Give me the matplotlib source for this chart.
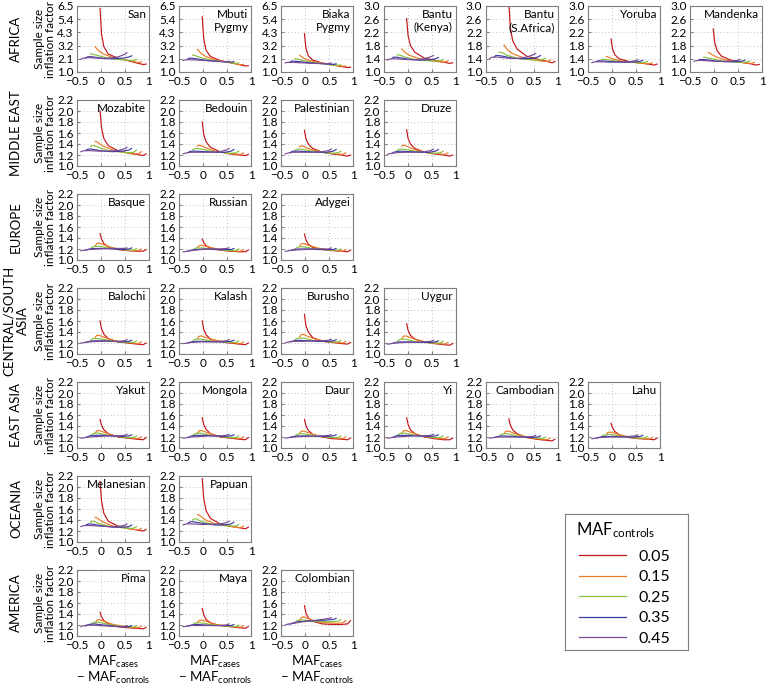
import matplotlib
matplotlib.use("Agg")
import matplotlib.pyplot as plt
from matplotlib.lines import Line2D

FONT = "Lato"
plt.rcParams['font.family'] = [FONT, 'DejaVu Sans']
plt.rcParams['mathtext.fontset'] = 'custom'
plt.rcParams['mathtext.rm'] = FONT
plt.rcParams['mathtext.it'] = FONT
plt.rcParams['axes.unicode_minus'] = True

# ---------------- data ----------------
MAF_CONTROLS = [0.05, 0.15, 0.25, 0.35, 0.45]
MAF_CASES = [0.03, 0.06, 0.11, 0.2, 0.4, 0.6, 0.8, 0.93, 0.99]
COLORS = ['#c4161c', '#ec7a22', '#86c240', '#3c3ca4', '#7a4a94']
X_TICKS = [-0.5, 0, 0.5, 1]
X_TICKLABELS = ['\u22120.5', '0', '0.5', '1']
YT_A = [1.0, 2.1, 3.2, 4.3, 5.4, 6.5]
YT_B = [1.0, 1.4, 1.8, 2.2, 2.6, 3.0]
YT_C = [1.0, 1.2, 1.4, 1.6, 1.8, 2.0, 2.2]

SAN = [[6.3, 4.2, 3.1, 2.5, 2.15, 1.95, 1.75, 1.62, 1.66],
       [3.1, 2.95, 2.75, 2.5, 2.2, 2.05, 1.9, 1.78, 1.85],
       [2.5, 2.5, 2.45, 2.35, 2.15, 2.05, 1.98, 1.95, 2.05],
       [2.15, 2.25, 2.28, 2.25, 2.12, 2.1, 2.15, 2.25, 2.35],
       [2.05, 2.12, 2.18, 2.2, 2.15, 2.15, 2.25, 2.45, 2.6]]
MBUTI = [[5.6, 3.8, 2.8, 2.3, 1.95, 1.8, 1.62, 1.5, 1.52],
         [2.9, 2.75, 2.55, 2.3, 2.0, 1.85, 1.7, 1.6, 1.64],
         [2.4, 2.4, 2.32, 2.2, 2.0, 1.88, 1.78, 1.72, 1.76],
         [2.1, 2.15, 2.15, 2.1, 1.98, 1.9, 1.85, 1.82, 1.86],
         [1.95, 2.0, 2.02, 2.02, 1.98, 1.92, 1.88, 1.86, 1.9]]
BIAKA = [[4.2, 3.0, 2.35, 2.0, 1.75, 1.6, 1.45, 1.38, 1.4],
         [2.4, 2.3, 2.15, 2.0, 1.8, 1.68, 1.55, 1.48, 1.5],
         [2.1, 2.1, 2.05, 1.95, 1.8, 1.7, 1.6, 1.56, 1.6],
         [1.85, 1.9, 1.9, 1.88, 1.78, 1.72, 1.66, 1.64, 1.68],
         [1.75, 1.8, 1.8, 1.8, 1.76, 1.72, 1.7, 1.7, 1.75]]
BANTU_KENYA = [[2.62, 2.1, 1.8, 1.6, 1.42, 1.36, 1.3, 1.26, 1.28],
               [1.7, 1.65, 1.58, 1.5, 1.4, 1.35, 1.31, 1.3, 1.34],
               [1.52, 1.52, 1.5, 1.45, 1.38, 1.35, 1.33, 1.34, 1.38],
               [1.42, 1.45, 1.45, 1.43, 1.38, 1.36, 1.37, 1.4, 1.44],
               [1.36, 1.39, 1.4, 1.4, 1.38, 1.37, 1.4, 1.46, 1.5]]
BANTU_SAFRICA = [[3.1, 2.35, 1.95, 1.7, 1.48, 1.4, 1.33, 1.28, 1.32],
                 [1.82, 1.75, 1.66, 1.56, 1.45, 1.38, 1.33, 1.32, 1.36],
                 [1.6, 1.6, 1.57, 1.5, 1.42, 1.38, 1.36, 1.37, 1.42],
                 [1.46, 1.5, 1.5, 1.48, 1.42, 1.4, 1.41, 1.45, 1.5],
                 [1.4, 1.44, 1.45, 1.45, 1.42, 1.41, 1.45, 1.52, 1.56]]
YORUBA = [[2.0, 1.7, 1.52, 1.4, 1.32, 1.28, 1.24, 1.21, 1.24],
          [1.47, 1.46, 1.43, 1.38, 1.32, 1.29, 1.26, 1.25, 1.28],
          [1.38, 1.39, 1.38, 1.36, 1.32, 1.3, 1.28, 1.29, 1.32],
          [1.32, 1.34, 1.34, 1.33, 1.31, 1.3, 1.3, 1.32, 1.35],
          [1.28, 1.3, 1.31, 1.31, 1.3, 1.3, 1.31, 1.34, 1.37]]
MANDENKA = [[2.3, 1.9, 1.65, 1.48, 1.36, 1.3, 1.25, 1.21, 1.23],
            [1.6, 1.57, 1.52, 1.45, 1.36, 1.31, 1.27, 1.26, 1.29],
            [1.45, 1.45, 1.43, 1.4, 1.34, 1.31, 1.29, 1.3, 1.33],
            [1.36, 1.38, 1.38, 1.37, 1.33, 1.31, 1.31, 1.33, 1.36],
            [1.32, 1.34, 1.35, 1.35, 1.33, 1.32, 1.33, 1.35, 1.38]]
MOZABITE = [[2.0, 1.7, 1.5, 1.37, 1.28, 1.24, 1.21, 1.19, 1.22],
            [1.45, 1.44, 1.41, 1.36, 1.29, 1.25, 1.22, 1.22, 1.26],
            [1.35, 1.37, 1.37, 1.34, 1.28, 1.26, 1.24, 1.25, 1.29],
            [1.28, 1.3, 1.31, 1.3, 1.27, 1.26, 1.27, 1.29, 1.32],
            [1.26, 1.27, 1.28, 1.28, 1.27, 1.27, 1.28, 1.31, 1.34]]
BEDOUIN = [[1.8, 1.58, 1.44, 1.34, 1.26, 1.22, 1.2, 1.19, 1.21],
           [1.36, 1.38, 1.37, 1.33, 1.27, 1.24, 1.22, 1.21, 1.24],
           [1.29, 1.31, 1.32, 1.31, 1.27, 1.25, 1.23, 1.24, 1.27],
           [1.24, 1.26, 1.27, 1.27, 1.26, 1.25, 1.25, 1.27, 1.3],
           [1.22, 1.23, 1.24, 1.25, 1.25, 1.25, 1.26, 1.29, 1.32]]
PALESTINIAN = [[1.65, 1.5, 1.4, 1.32, 1.25, 1.22, 1.2, 1.18, 1.2],
               [1.35, 1.37, 1.36, 1.32, 1.27, 1.24, 1.22, 1.21, 1.24],
               [1.28, 1.3, 1.31, 1.3, 1.27, 1.25, 1.23, 1.24, 1.27],
               [1.24, 1.26, 1.27, 1.27, 1.26, 1.25, 1.25, 1.27, 1.3],
               [1.22, 1.23, 1.24, 1.25, 1.25, 1.25, 1.26, 1.28, 1.31]]
DRUZE = [[1.66, 1.5, 1.4, 1.32, 1.25, 1.22, 1.2, 1.18, 1.2],
         [1.36, 1.38, 1.37, 1.33, 1.27, 1.24, 1.22, 1.21, 1.24],
         [1.28, 1.3, 1.31, 1.3, 1.27, 1.25, 1.23, 1.24, 1.27],
         [1.23, 1.25, 1.26, 1.27, 1.26, 1.25, 1.25, 1.27, 1.3],
         [1.21, 1.22, 1.23, 1.24, 1.25, 1.25, 1.26, 1.28, 1.31]]
BASQUE = [[1.48, 1.38, 1.3, 1.24, 1.19, 1.17, 1.16, 1.16, 1.19],
          [1.26, 1.3, 1.31, 1.28, 1.22, 1.19, 1.17, 1.17, 1.2],
          [1.2, 1.23, 1.25, 1.25, 1.22, 1.2, 1.18, 1.18, 1.21],
          [1.18, 1.19, 1.2, 1.21, 1.21, 1.2, 1.19, 1.2, 1.22],
          [1.17, 1.17, 1.18, 1.19, 1.2, 1.21, 1.21, 1.21, 1.22]]
RUSSIAN = [[1.38, 1.32, 1.26, 1.21, 1.18, 1.16, 1.15, 1.15, 1.18],
           [1.22, 1.26, 1.27, 1.25, 1.21, 1.18, 1.16, 1.16, 1.19],
           [1.18, 1.2, 1.22, 1.22, 1.2, 1.19, 1.17, 1.17, 1.2],
           [1.16, 1.17, 1.18, 1.19, 1.2, 1.19, 1.19, 1.19, 1.21],
           [1.15, 1.15, 1.16, 1.17, 1.19, 1.2, 1.2, 1.21, 1.22]]
ADYGEI = [[1.47, 1.37, 1.29, 1.23, 1.19, 1.17, 1.16, 1.15, 1.18],
          [1.25, 1.29, 1.3, 1.27, 1.22, 1.19, 1.17, 1.16, 1.19],
          [1.2, 1.22, 1.24, 1.24, 1.21, 1.19, 1.18, 1.18, 1.2],
          [1.17, 1.18, 1.19, 1.2, 1.2, 1.19, 1.19, 1.19, 1.21],
          [1.16, 1.16, 1.17, 1.18, 1.19, 1.2, 1.2, 1.2, 1.22]]
BALOCHI = [[1.6, 1.46, 1.36, 1.28, 1.22, 1.2, 1.18, 1.17, 1.2],
           [1.3, 1.34, 1.34, 1.31, 1.25, 1.22, 1.2, 1.19, 1.22],
           [1.24, 1.27, 1.28, 1.28, 1.25, 1.22, 1.21, 1.21, 1.24],
           [1.21, 1.22, 1.23, 1.24, 1.24, 1.23, 1.22, 1.23, 1.25],
           [1.2, 1.2, 1.21, 1.22, 1.23, 1.23, 1.23, 1.24, 1.26]]
KALASH = [[1.6, 1.45, 1.35, 1.27, 1.22, 1.2, 1.18, 1.17, 1.2],
          [1.28, 1.32, 1.33, 1.3, 1.25, 1.22, 1.2, 1.19, 1.22],
          [1.23, 1.26, 1.27, 1.27, 1.24, 1.22, 1.21, 1.21, 1.24],
          [1.2, 1.21, 1.22, 1.23, 1.23, 1.22, 1.22, 1.23, 1.25],
          [1.19, 1.19, 1.2, 1.21, 1.22, 1.22, 1.23, 1.24, 1.26]]
BURUSHO = [[1.72, 1.52, 1.4, 1.3, 1.23, 1.21, 1.19, 1.18, 1.21],
           [1.31, 1.35, 1.36, 1.32, 1.26, 1.23, 1.21, 1.2, 1.23],
           [1.25, 1.28, 1.29, 1.29, 1.25, 1.23, 1.22, 1.22, 1.25],
           [1.22, 1.23, 1.24, 1.25, 1.24, 1.23, 1.23, 1.24, 1.26],
           [1.2, 1.21, 1.22, 1.23, 1.23, 1.24, 1.24, 1.25, 1.27]]
UYGUR = [[1.55, 1.43, 1.34, 1.27, 1.22, 1.19, 1.17, 1.16, 1.19],
         [1.28, 1.32, 1.33, 1.3, 1.24, 1.21, 1.19, 1.18, 1.21],
         [1.22, 1.25, 1.27, 1.27, 1.23, 1.21, 1.2, 1.2, 1.23],
         [1.19, 1.2, 1.21, 1.22, 1.22, 1.21, 1.21, 1.22, 1.24],
         [1.18, 1.18, 1.19, 1.2, 1.21, 1.21, 1.22, 1.23, 1.25]]
YAKUT = [[1.52, 1.42, 1.33, 1.26, 1.2, 1.18, 1.16, 1.15, 1.19],
         [1.27, 1.31, 1.32, 1.29, 1.23, 1.2, 1.18, 1.17, 1.2],
         [1.22, 1.25, 1.27, 1.27, 1.23, 1.21, 1.19, 1.19, 1.22],
         [1.19, 1.2, 1.22, 1.23, 1.23, 1.22, 1.21, 1.22, 1.24],
         [1.18, 1.18, 1.19, 1.2, 1.21, 1.22, 1.22, 1.23, 1.25]]
MONGOLA = [[1.55, 1.43, 1.34, 1.26, 1.2, 1.18, 1.16, 1.15, 1.19],
           [1.27, 1.31, 1.32, 1.29, 1.23, 1.2, 1.18, 1.17, 1.2],
           [1.22, 1.25, 1.27, 1.27, 1.23, 1.21, 1.19, 1.19, 1.22],
           [1.19, 1.2, 1.22, 1.23, 1.23, 1.22, 1.21, 1.22, 1.24],
           [1.18, 1.18, 1.19, 1.2, 1.21, 1.22, 1.22, 1.23, 1.25]]
DAUR = [[1.52, 1.41, 1.32, 1.25, 1.2, 1.17, 1.16, 1.15, 1.18],
        [1.26, 1.3, 1.31, 1.28, 1.22, 1.2, 1.18, 1.17, 1.2],
        [1.21, 1.24, 1.26, 1.26, 1.23, 1.21, 1.19, 1.19, 1.22],
        [1.19, 1.2, 1.21, 1.22, 1.22, 1.21, 1.21, 1.22, 1.24],
        [1.18, 1.18, 1.19, 1.2, 1.21, 1.21, 1.22, 1.23, 1.24]]
YI = [[1.55, 1.43, 1.33, 1.26, 1.2, 1.17, 1.15, 1.15, 1.18],
      [1.27, 1.31, 1.32, 1.29, 1.23, 1.2, 1.17, 1.17, 1.2],
      [1.22, 1.25, 1.27, 1.27, 1.23, 1.21, 1.19, 1.19, 1.22],
      [1.19, 1.2, 1.22, 1.23, 1.23, 1.22, 1.21, 1.22, 1.24],
      [1.18, 1.18, 1.19, 1.2, 1.21, 1.22, 1.22, 1.23, 1.25]]
CAMBODIAN = [[1.53, 1.42, 1.33, 1.26, 1.19, 1.16, 1.14, 1.13, 1.16],
             [1.26, 1.3, 1.31, 1.28, 1.22, 1.18, 1.16, 1.15, 1.18],
             [1.21, 1.24, 1.26, 1.26, 1.22, 1.2, 1.18, 1.17, 1.2],
             [1.19, 1.2, 1.21, 1.22, 1.21, 1.2, 1.19, 1.2, 1.22],
             [1.18, 1.18, 1.19, 1.2, 1.2, 1.2, 1.2, 1.21, 1.23]]
LAHU = [[1.45, 1.37, 1.3, 1.24, 1.19, 1.17, 1.16, 1.15, 1.18],
        [1.24, 1.28, 1.29, 1.27, 1.22, 1.19, 1.17, 1.16, 1.19],
        [1.2, 1.23, 1.24, 1.25, 1.22, 1.2, 1.18, 1.18, 1.21],
        [1.18, 1.19, 1.2, 1.21, 1.21, 1.2, 1.2, 1.21, 1.23],
        [1.17, 1.17, 1.18, 1.19, 1.2, 1.2, 1.21, 1.22, 1.24]]
MELANESIAN = [[2.1, 1.75, 1.52, 1.38, 1.29, 1.25, 1.22, 1.2, 1.23],
              [1.45, 1.44, 1.41, 1.36, 1.29, 1.26, 1.23, 1.22, 1.25],
              [1.36, 1.38, 1.37, 1.34, 1.29, 1.27, 1.25, 1.25, 1.28],
              [1.3, 1.32, 1.33, 1.32, 1.29, 1.27, 1.27, 1.28, 1.31],
              [1.28, 1.29, 1.3, 1.3, 1.29, 1.28, 1.28, 1.3, 1.33]]
PAPUAN = [[2.15, 1.8, 1.57, 1.43, 1.33, 1.29, 1.26, 1.24, 1.27],
          [1.5, 1.49, 1.46, 1.4, 1.33, 1.3, 1.27, 1.26, 1.29],
          [1.4, 1.42, 1.42, 1.38, 1.33, 1.31, 1.29, 1.29, 1.32],
          [1.34, 1.36, 1.37, 1.36, 1.33, 1.31, 1.31, 1.33, 1.36],
          [1.31, 1.32, 1.33, 1.33, 1.32, 1.32, 1.33, 1.35, 1.38]]
PIMA = [[1.43, 1.35, 1.28, 1.22, 1.17, 1.15, 1.14, 1.13, 1.16],
        [1.24, 1.28, 1.3, 1.27, 1.21, 1.18, 1.16, 1.15, 1.18],
        [1.2, 1.23, 1.25, 1.25, 1.21, 1.18, 1.17, 1.16, 1.19],
        [1.18, 1.2, 1.21, 1.22, 1.2, 1.18, 1.17, 1.17, 1.19],
        [1.17, 1.18, 1.19, 1.2, 1.19, 1.18, 1.17, 1.17, 1.19]]
MAYA = [[1.5, 1.39, 1.3, 1.24, 1.19, 1.17, 1.15, 1.14, 1.17],
        [1.24, 1.28, 1.29, 1.27, 1.21, 1.19, 1.17, 1.16, 1.19],
        [1.2, 1.23, 1.24, 1.24, 1.21, 1.19, 1.18, 1.17, 1.2],
        [1.18, 1.19, 1.2, 1.21, 1.2, 1.19, 1.19, 1.19, 1.21],
        [1.17, 1.17, 1.18, 1.19, 1.19, 1.19, 1.19, 1.2, 1.22]]
COLOMBIAN = [[1.55, 1.42, 1.33, 1.27, 1.22, 1.21, 1.21, 1.22, 1.28],
             [1.28, 1.33, 1.35, 1.32, 1.26, 1.24, 1.23, 1.24, 1.28],
             [1.24, 1.27, 1.29, 1.29, 1.27, 1.26, 1.26, 1.27, 1.3],
             [1.21, 1.23, 1.24, 1.26, 1.27, 1.28, 1.29, 1.3, 1.32],
             [1.2, 1.21, 1.22, 1.23, 1.26, 1.28, 1.3, 1.32, 1.33]]

REGIONS = ['AFRICA', 'MIDDLE EAST', 'EUROPE', 'CENTRAL/SOUTH\nASIA',
           'EAST ASIA', 'OCEANIA', 'AMERICA']
PANELS = [
    [('San', SAN, YT_A), ('Mbuti\nPygmy', MBUTI, YT_A), ('Biaka\nPygmy', BIAKA, YT_A),
     ('Bantu\n(Kenya)', BANTU_KENYA, YT_B), ('Bantu\n(S.Africa)', BANTU_SAFRICA, YT_B),
     ('Yoruba', YORUBA, YT_B), ('Mandenka', MANDENKA, YT_B)],
    [('Mozabite', MOZABITE, YT_C), ('Bedouin', BEDOUIN, YT_C),
     ('Palestinian', PALESTINIAN, YT_C), ('Druze', DRUZE, YT_C)],
    [('Basque', BASQUE, YT_C), ('Russian', RUSSIAN, YT_C), ('Adygei', ADYGEI, YT_C)],
    [('Balochi', BALOCHI, YT_C), ('Kalash', KALASH, YT_C), ('Burusho', BURUSHO, YT_C),
     ('Uygur', UYGUR, YT_C)],
    [('Yakut', YAKUT, YT_C), ('Mongola', MONGOLA, YT_C), ('Daur', DAUR, YT_C),
     ('Yi', YI, YT_C), ('Cambodian', CAMBODIAN, YT_C), ('Lahu', LAHU, YT_C)],
    [('Melanesian', MELANESIAN, YT_C), ('Papuan', PAPUAN, YT_C)],
    [('Pima', PIMA, YT_C), ('Maya', MAYA, YT_C), ('Colombian', COLOMBIAN, YT_C)],
]

# ---------------- layout ----------------
W, H = 767, 685
fig = plt.figure(figsize=(W / 100, H / 100), dpi=100)
FS = 8.5
GRAY = '#7f7f7f'
LEFT0, COLSTEP, AXW = 77, 102.2, 72
TOP0, ROWSTEP, AXH = 6, 94, 66


def add_px_axes(left, top, w, h):
    return fig.add_axes([left / W, 1 - (top + h) / H, w / W, h / H])


for r, row in enumerate(PANELS):
    top = TOP0 + r * ROWSTEP
    for c, (name, curves, yt) in enumerate(row):
        ax = add_px_axes(LEFT0 + c * COLSTEP, top, AXW, AXH)
        for m, ys, col in zip(MAF_CONTROLS, curves, COLORS):
            xs = [p - m for p in MAF_CASES]
            ax.plot(xs, ys, color=col, lw=0.85, solid_joinstyle='round')
        ax.set_xlim(-0.5, 1)
        ax.set_ylim(yt[0], yt[-1])
        ax.set_xticks(X_TICKS)
        ax.set_xticklabels(X_TICKLABELS)
        ax.set_yticks(yt)
        ax.set_yticklabels(['%.1f' % v for v in yt])
        ax.grid(True, color='#b0b0b0', ls=(0, (1, 3)), lw=0.6)
        ax.tick_params(labelsize=FS, length=2, direction='in', color=GRAY)
        ax.tick_params(axis='x', pad=2.8)
        ax.tick_params(axis='y', pad=2.5)
        for s in ax.spines.values():
            s.set_color(GRAY)
            s.set_linewidth(0.8)
        ax.text(0.96, 0.95, name, transform=ax.transAxes, ha='right', va='top',
                fontsize=FS, linespacing=1.2)
        if r == len(PANELS) - 1:
            ax.set_xlabel('MAF$_{\\mathrm{cases}}$\n\u2212 MAF$_{\\mathrm{controls}}$',
                          fontsize=9.5, labelpad=2, linespacing=1.0)
    yc = 1 - (top + AXH / 2) / H
    fig.text(16 / W, yc, REGIONS[r], rotation=90, ha='center', va='center',
             fontsize=9.5, linespacing=1.2)
    fig.text(45 / W, yc, 'Sample size\ninflation factor', rotation=90,
             ha='center', va='center', fontsize=FS, linespacing=1.1)

# ---------------- legend ----------------
lax = add_px_axes(565, 514, 123, 136)
lax.set_xlim(0, 1)
lax.set_ylim(0, 1)
lax.set_xticks([])
lax.set_yticks([])
for s in lax.spines.values():
    s.set_color(GRAY)
    s.set_linewidth(0.8)
handles = [Line2D([0], [0], color=col, lw=0.9) for col in COLORS]
labels = ['%.2f' % m for m in MAF_CONTROLS]
lax.legend(handles, labels, loc='upper left', bbox_to_anchor=(0.11, 0.74),
           frameon=False, fontsize=11.5, handlelength=3.0, handletextpad=0.75,
           labelspacing=0.4, borderaxespad=0, borderpad=0)
lax.text(0.09, 0.95, 'MAF$_{\\mathrm{controls}}$', transform=lax.transAxes,
         ha='left', va='top', fontsize=12)

fig.savefig('out.png', dpi=100)
